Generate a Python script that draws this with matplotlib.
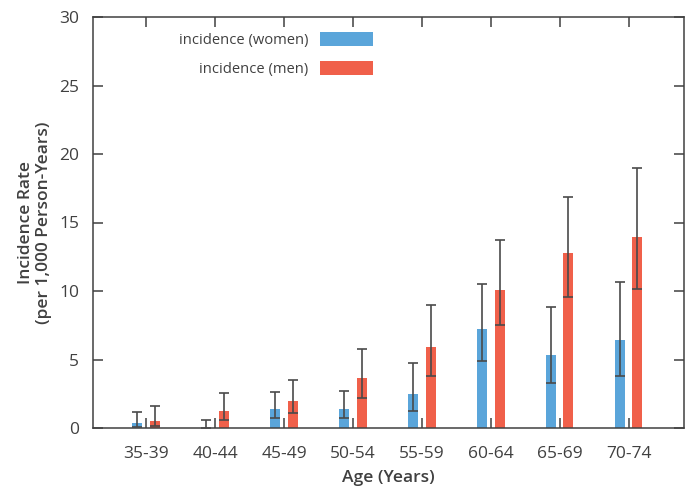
import matplotlib
matplotlib.use("Agg")
import matplotlib.pyplot as plt
from matplotlib.patches import Patch
import numpy as np

plt.rcParams['font.family'] = ['Open Sans', 'DejaVu Sans']

categories = ["35-39", "40-44", "45-49", "50-54", "55-59", "60-64", "65-69", "70-74"]
women = [0.39, 0.0, 1.39, 1.39, 2.5, 7.2, 5.35, 6.42]
women_low = [0.07, 0.0, 0.7, 0.7, 1.25, 4.9, 3.26, 3.82]
women_high = [1.19, 0.58, 2.65, 2.7, 4.75, 10.5, 8.8, 10.68]
men = [0.49, 1.24, 1.97, 3.65, 5.9, 10.1, 12.75, 13.92]
men_low = [0.15, 0.58, 1.07, 2.2, 3.8, 7.5, 9.58, 10.12]
men_high = [1.6, 2.58, 3.5, 5.8, 8.95, 13.7, 16.88, 19.0]

W, H = 691, 487
fig = plt.figure(figsize=(W / 100, H / 100), dpi=100)
ax = fig.add_axes([93 / W, 1 - 428 / H, (684 - 93) / W, (428 - 17) / H])

c_w = "#5AA5DA"
c_m = "#F0604A"
ec = "#4a4a4a"
x = np.arange(len(categories))
bw = 0.145
off = 0.125

women = np.array(women); men = np.array(men)
w_err = [women - np.array(women_low), np.array(women_high) - women]
m_err = [men - np.array(men_low), np.array(men_high) - men]

ax.bar(x - off, women, bw, color=c_w, zorder=2)
ax.bar(x + off, men, bw, color=c_m, zorder=2)
ax.errorbar(x - off, women, yerr=w_err, fmt='none', ecolor=ec, elinewidth=1.2,
            capsize=3.6, capthick=1.2, zorder=3)
ax.errorbar(x + off, men, yerr=m_err, fmt='none', ecolor=ec, elinewidth=1.2,
            capsize=3.6, capthick=1.2, zorder=3)

ax.set_xlim(-0.77, 7.8)
ax.set_ylim(0, 30)
ax.set_yticks([0, 5, 10, 15, 20, 25, 30])
ax.set_xticks(x)
ax.set_xticklabels(categories)

for s in ax.spines.values():
    s.set_color("#404040")
    s.set_linewidth(1.1)

ax.tick_params(axis='both', direction='in', top=True, right=True, colors="#404040",
               labelcolor="#404040", labelsize=12.5, length=7, width=1.1)
ax.tick_params(axis='x', pad=13)
ax.tick_params(axis='y', pad=10)

ax.set_xlabel("Age (Years)", fontsize=12.5, fontweight='semibold', color="#404040", labelpad=6)
ax.set_ylabel("Incidence Rate\n(per 1,000 Person-Years)", fontsize=12.5, fontweight='semibold',
              color="#404040", labelpad=5, linespacing=1.15)

handles = [Patch(facecolor=c_w, edgecolor='none'), Patch(facecolor=c_m, edgecolor='none')]
leg = ax.legend(handles, ["incidence (women)", "incidence (men)"],
                loc='upper right', bbox_to_anchor=(373 / W, 1 - 32 / H),
                bbox_transform=fig.transFigure, frameon=False, markerfirst=False,
                fontsize=10.6, handlelength=3.6, handleheight=1.05, handletextpad=0.8,
                labelspacing=0.9, borderpad=0, borderaxespad=0)
for t in leg.get_texts():
    t.set_color("#404040")

fig.savefig("out.png", dpi=100)
